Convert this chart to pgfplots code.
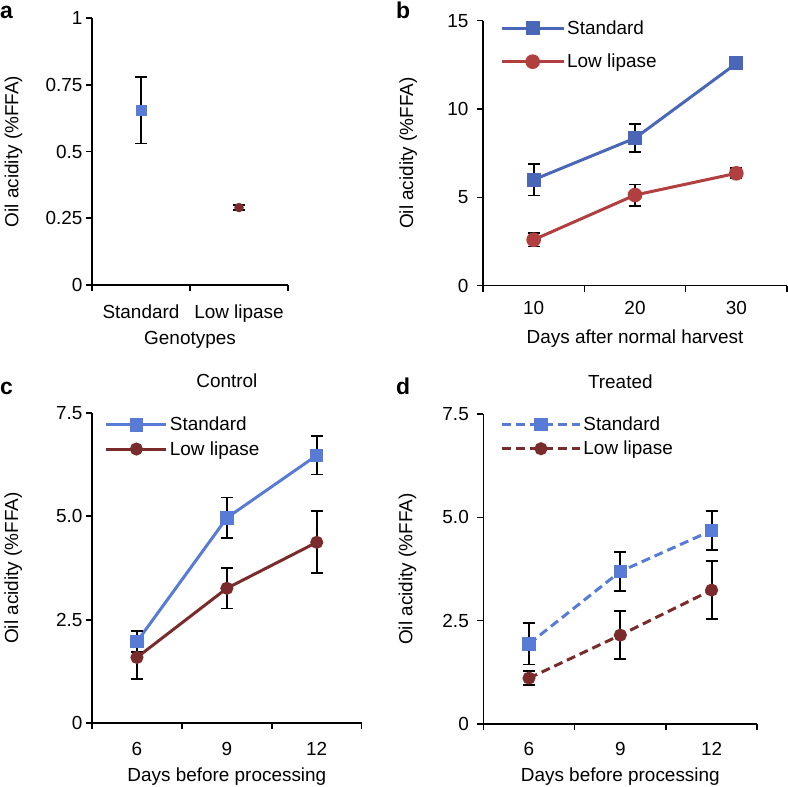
\documentclass[border=0pt]{standalone}
\usepackage{pgfplots}
\pgfplotsset{compat=1.18}
\usepackage{fontspec}
\setmainfont{Liberation Sans}

\definecolor{bluea}{RGB}{88,124,214}
\definecolor{reda}{RGB}{122,43,43}
\definecolor{blueb}{RGB}{74,103,183}
\definecolor{redb}{RGB}{178,63,63}

\pgfplotsset{
  myaxis/.style={
    scale only axis, anchor=south west,
    axis x line*=bottom, axis y line*=left,
    axis line style={-, line width=1.6bp, black},
    every outer x axis line/.append style={-},
    every outer y axis line/.append style={-},
    tick align=outside,
    major tick length=6bp, minor tick length=6bp,
    tick style={black, line width=1.6bp},
    tick label style={font=\fontsize{19}{22}\selectfont, black},
    label style={font=\fontsize{19}{22}\selectfont},
    title style={font=\fontsize{19}{22}\selectfont, at={(axis description cs:0.5,1)}, anchor=center, yshift=26bp},
    ylabel={Oil acidity (\%FFA)},
    clip=false,
    legend cell align=left,
    legend style={draw=none, fill=none, font=\fontsize{19}{22}\selectfont, anchor=west},
  },
  eb/.style={error bars/.cd, y dir=both, y explicit,
    error bar style={solid, line width=1.8bp, black},
    error mark options={solid, rotate=90, line width=1.8bp, mark size=6bp, black}},
}

\begin{document}
\begin{tikzpicture}
\useasboundingbox (0,0) rectangle (788bp,787bp);

% panel letters
\node[anchor=base west, inner sep=0pt, font=\fontsize{23}{26}\selectfont\bfseries] at (0bp,768.7bp) {a};
\node[anchor=base west, inner sep=0pt, font=\fontsize{23}{26}\selectfont\bfseries] at (396bp,768.7bp) {b};
\node[anchor=base west, inner sep=0pt, font=\fontsize{23}{26}\selectfont\bfseries] at (0bp,392bp) {c};
\node[anchor=base west, inner sep=0pt, font=\fontsize{23}{26}\selectfont\bfseries] at (396bp,392bp) {d};

% ---------------- panel a
\begin{axis}[myaxis, at={(92bp,502bp)}, width=196bp, height=267bp,
  xmin=0, xmax=2, ymin=0, ymax=1,
  xtick={0.5,1.5}, xticklabels={Standard, Low lipase},
  minor xtick={0,1,2}, major x tick style={draw=none},
  ytick={0,0.25,0.5,0.75,1}, yticklabels={0,0.25,0.5,0.75,1},
  xticklabel style={yshift=-10bp},
  xlabel={Genotypes},
  xlabel style={at={(axis description cs:0.5,0)}, anchor=center, yshift=-55bp},
  ylabel style={at={(axis description cs:-0.40,0.5)}, anchor=center},
]
\addplot[only marks, mark=square*, mark size=5bp, color=bluea, eb] coordinates {(0.5,0.655) +- (0,0.125)};
\addplot[only marks, mark=*, mark size=4.5bp, color=reda, eb] coordinates {(1.5,0.29) +- (0,0.01)};
\end{axis}

% ---------------- panel b
\begin{axis}[myaxis, at={(483bp,501.3bp)}, width=304bp, height=265bp,
  xmin=5, xmax=35, ymin=0, ymax=15,
  xtick={10,20,30}, xticklabels={10,20,30},
  minor xtick={5,15,25,35}, major x tick style={draw=none},
  ytick={0,5,10,15}, yticklabels={0,5,10,15},
  yticklabel style={xshift=-5bp},
  xticklabel style={yshift=-6.5bp},
  xlabel={Days after normal harvest},
  xlabel style={at={(axis description cs:0.5,0)}, anchor=center, yshift=-52.6bp},
  ylabel style={at={(axis description cs:-0.246,0.5)}, anchor=center},
  legend image code/.code={\draw[mark repeat=2,mark phase=2,#1] plot coordinates {(0bp,0bp)(31bp,0bp)(62bp,0bp)};},
  legend style={at={(axis description cs:0.046,0.908)}, row sep=14bp},
]
\addplot[color=blueb, line width=3bp, mark=square*, mark size=5.5bp, mark options={solid}, eb]
  coordinates {(10,6.0) +- (0,0.9) (20,8.35) +- (0,0.8) (30,12.58) +- (0,0.1)};
\addlegendentry{Standard}
\addplot[color=redb, line width=3bp, mark=*, mark size=5.8bp, mark options={solid}, eb]
  coordinates {(10,2.6) +- (0,0.38) (20,5.13) +- (0,0.6) (30,6.36) +- (0,0.28)};
\addlegendentry{Low lipase}
\end{axis}

% ---------------- panel c
\begin{axis}[myaxis, at={(92bp,63.7bp)}, width=269.7bp, height=310.6bp,
  xmin=4.5, xmax=13.5, ymin=0, ymax=7.5,
  xtick={6,9,12}, xticklabels={6,9,12},
  minor xtick={4.5,7.5,10.5,13.5}, major x tick style={draw=none},
  ytick={0,2.5,5,7.5}, yticklabels={0,2.5,5.0,7.5},
  xticklabel style={yshift=-9bp},
  title={Control},
  xlabel={Days before processing},
  xlabel style={at={(axis description cs:0.5,0)}, anchor=center, yshift=-53bp},
  ylabel style={at={(axis description cs:-0.292,0.5)}, anchor=center},
  legend image code/.code={\draw[mark repeat=2,mark phase=2,#1] plot coordinates {(0bp,0bp)(30bp,0bp)(60bp,0bp)};},
  legend style={at={(axis description cs:0.036,0.922)}, row sep=5bp},
]
\addplot[color=bluea, line width=3bp, mark=square*, mark size=5.2bp, mark options={solid}, eb]
  coordinates {(6,1.97) +- (0,0.25) (9,4.96) +- (0,0.49) (12,6.47) +- (0,0.46)};
\addlegendentry{Standard}
\addplot[color=reda, line width=3bp, mark=*, mark size=5bp, mark options={solid}, eb]
  coordinates {(6,1.59) +- (0,0.52) (9,3.26) +- (0,0.49) (12,4.37) +- (0,0.75)};
\addlegendentry{Low lipase}
\end{axis}

% ---------------- panel d
\begin{axis}[myaxis, at={(483.3bp,63bp)}, width=274bp, height=310bp,
  xmin=4.5, xmax=13.5, ymin=0, ymax=7.5,
  xtick={6,9,12}, xticklabels={6,9,12},
  minor xtick={4.5,7.5,10.5,13.5}, major x tick style={draw=none},
  ytick={0,2.5,5,7.5}, yticklabels={0,2.5,5.0,7.5},
  yticklabel style={xshift=-5bp},
  xticklabel style={yshift=-9bp},
  title={Treated},
  xlabel={Days before processing},
  xlabel style={at={(axis description cs:0.5,0)}, anchor=center, yshift=-52.5bp},
  ylabel style={at={(axis description cs:-0.277,0.5)}, anchor=center},
  legend image code/.code={\draw[mark repeat=2,mark phase=2,#1] plot coordinates {(0bp,0bp)(39bp,0bp)(78bp,0bp)};},
  legend style={at={(axis description cs:0.051,0.927)}, row sep=5bp},
]
\addplot[color=bluea, line width=3bp, dash pattern=on 9bp off 5bp, mark=square*, mark size=5.2bp, mark options={solid}, eb]
  coordinates {(6,1.94) +- (0,0.5) (9,3.69) +- (0,0.47) (12,4.68) +- (0,0.47)};
\addlegendentry{Standard}
\addplot[color=reda, line width=3bp, dash pattern=on 9bp off 5bp, mark=*, mark size=5bp, mark options={solid}, eb]
  coordinates {(6,1.11) +- (0,0.17) (9,2.15) +- (0,0.58) (12,3.24) +- (0,0.7)};
\addlegendentry{Low lipase}
\end{axis}
\end{tikzpicture}
\end{document}
